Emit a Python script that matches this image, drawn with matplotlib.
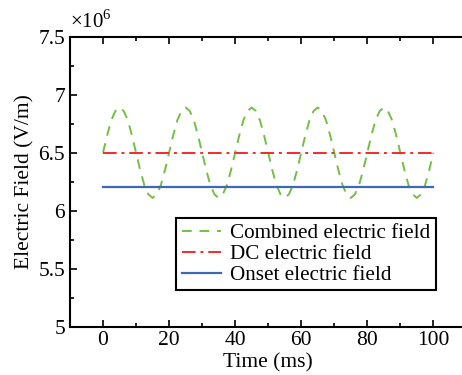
import matplotlib.pyplot as plt

plt.rcParams['font.family'] = ['Liberation Serif', 'DejaVu Serif']
plt.rcParams['mathtext.fontset'] = 'custom'
plt.rcParams['mathtext.rm'] = 'Liberation Serif'

# Time axis (ms), sampled every 1.25 ms
time_ms = [i * 1.25 for i in range(81)]

# Electric fields in units of 1e6 V/m
combined_field = [
    6.50, 6.65, 6.78, 6.86, 6.89, 6.86, 6.78, 6.65, 6.50, 6.35, 6.22, 6.14, 6.11, 6.14, 6.22, 6.35,
    6.50, 6.65, 6.78, 6.86, 6.89, 6.86, 6.78, 6.65, 6.50, 6.35, 6.22, 6.14, 6.11, 6.14, 6.22, 6.35,
    6.50, 6.65, 6.78, 6.86, 6.89, 6.86, 6.78, 6.65, 6.50, 6.35, 6.22, 6.14, 6.11, 6.14, 6.22, 6.35,
    6.50, 6.65, 6.78, 6.86, 6.89, 6.86, 6.78, 6.65, 6.50, 6.35, 6.22, 6.14, 6.11, 6.14, 6.22, 6.35,
    6.50, 6.65, 6.78, 6.86, 6.89, 6.86, 6.78, 6.65, 6.50, 6.35, 6.22, 6.14, 6.11, 6.14, 6.22, 6.35,
    6.50,
]
dc_time = [0, 100]
dc_field = [6.5, 6.5]
onset_time = [0, 100]
onset_field = [6.2, 6.2]

fig = plt.figure(figsize=(4.62, 3.75), dpi=100)
ax = fig.add_axes([0.1515, 0.129, 0.858, 0.773])

ax.plot(time_ms, combined_field, color='#72bf44', linestyle=(0, (5, 4)), linewidth=1.4,
        label='Combined electric field')
ax.plot(dc_time, dc_field, color='#f52a2a', linestyle=(0, (7, 2.5, 1.5, 2.5)), linewidth=1.4,
        label='DC electric field')
ax.plot(onset_time, onset_field, color='#3d68b5', linewidth=1.6,
        label='Onset electric field')

ax.set_xlim(-10, 110)
ax.set_ylim(5, 7.5)
ax.set_xticks([0, 20, 40, 60, 80, 100])
ax.set_xticks(range(-10, 111, 10), minor=True)
ax.set_yticks([5, 5.5, 6, 6.5, 7, 7.5])
ax.set_yticklabels(['5', '5.5', '6', '6.5', '7', '7.5'])
ax.set_yticks([5 + 0.25 * i for i in range(11)], minor=True)
ax.tick_params(which='both', direction='in', top=True, right=False, labelsize=15.5, width=1.2)
ax.tick_params(which='major', length=5)
ax.tick_params(which='minor', length=3)
for s in ax.spines.values():
    s.set_linewidth(1.5)
ax.spines['right'].set_visible(False)

ax.set_xlabel('Time (ms)', fontsize=15.5, labelpad=2)
ax.set_ylabel('Electric Field (V/m)', fontsize=15.5, labelpad=3)
ax.text(0.0, 1.015, r'$\times10^{6}$', transform=ax.transAxes, fontsize=15, va='bottom', ha='left')

leg = ax.legend(loc='upper left', bbox_to_anchor=(0.268, 0.375), fontsize=15.2, frameon=True,
                fancybox=False, edgecolor='black', framealpha=1, handlelength=1.85,
                borderpad=0.25, labelspacing=0.06, handletextpad=0.45, borderaxespad=0)
leg.get_frame().set_linewidth(1.5)

fig.savefig('out.png', dpi=100)
